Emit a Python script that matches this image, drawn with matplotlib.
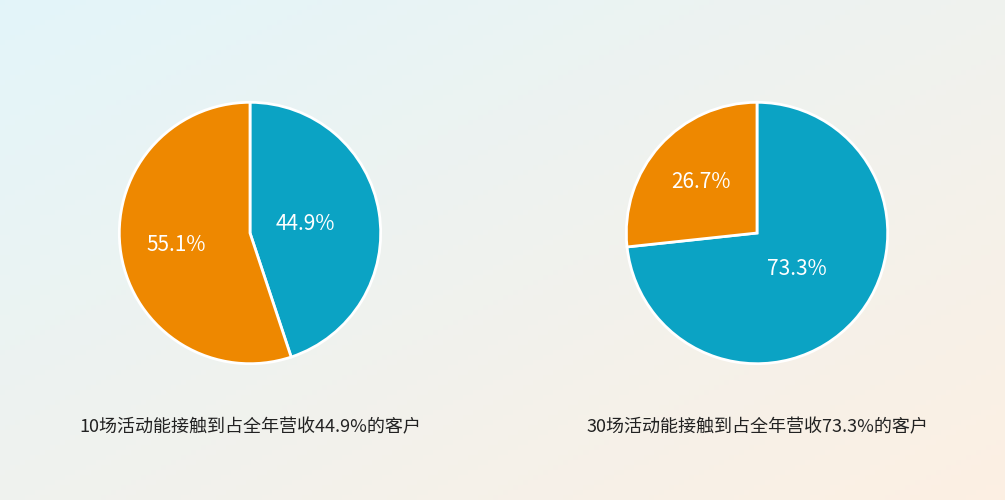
import numpy as np
import matplotlib.pyplot as plt

plt.rcParams['font.family'] = ['Noto Sans CJK SC', 'DejaVu Sans']

# data
share_blue = [44.9, 73.3]
share_orange = [55.1, 26.7]
captions = ["10场活动能接触到占全年营收44.9%的客户", "30场活动能接触到占全年营收73.3%的客户"]
centers_x = [250, 757]

blue = "#0BA3C4"
orange = "#EE8800"

fig = plt.figure(figsize=(10.05, 5), dpi=100)

# background gradient
bg = fig.add_axes([0, 0, 1, 1], zorder=-10)
xx, yy = np.meshgrid(np.linspace(0, 1, 200), np.linspace(0, 1, 100))
t = (xx + yy) / 2
c1 = np.array([0.89, 0.96, 0.98])
c2 = np.array([0.99, 0.94, 0.89])
img = c1[None, None, :] * (1 - t[..., None]) + c2[None, None, :] * t[..., None]
bg.imshow(img, aspect='auto', extent=[0, 1, 0, 1], origin='upper')
bg.axis('off')

for i in range(2):
    cx = centers_x[i] / 1005
    w, h = 264 / 1005, 264 / 500
    ax = fig.add_axes([cx - w / 2, 0.534 - h / 2, w, h])
    vals = [share_blue[i], share_orange[i]]
    wedges, _ = ax.pie(vals, colors=[blue, orange], startangle=90, counterclock=False,
                       wedgeprops=dict(edgecolor='white', linewidth=2))
    dists = [0.43, 0.57] if i == 0 else [0.41, 0.58]
    for wd, v, d in zip(wedges, vals, dists):
        ang = np.deg2rad((wd.theta1 + wd.theta2) / 2)
        ax.text(d * np.cos(ang), d * np.sin(ang), f"{v}%", color='white',
                fontsize=15, ha='center', va='center')
    ax.set_xlim(-1.01, 1.01)
    ax.set_ylim(-1.01, 1.01)
    fig.text(cx, 1 - 427 / 500, captions[i], ha='center', va='center',
             fontsize=13, color='#222222')

fig.savefig("out.png", dpi=100)
